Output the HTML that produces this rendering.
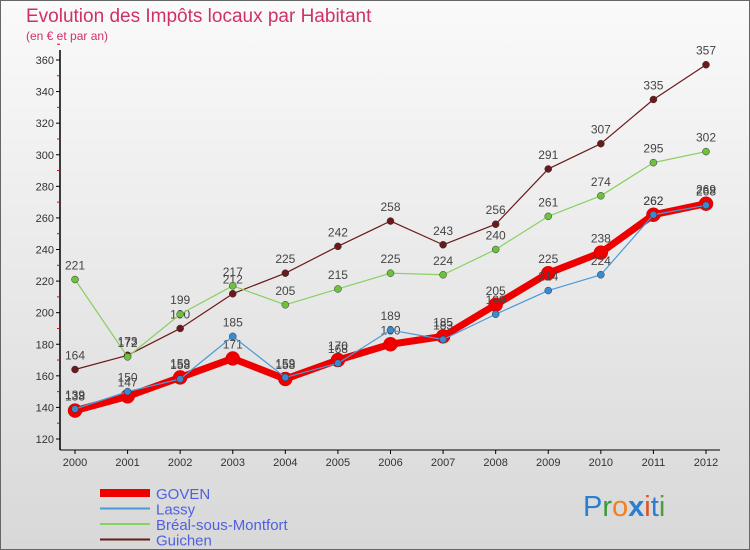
<!DOCTYPE html>
<html><head><meta charset="utf-8"><style>
body{margin:0}
#c{width:750px;height:550px;position:relative;font-family:"Liberation Sans",sans-serif;overflow:hidden}
</style></head><body>
<div id="c">
<svg id="s" width="750" height="550" xmlns="http://www.w3.org/2000/svg">
<defs><linearGradient id="bg" x1="0" y1="0" x2="0" y2="1"><stop offset="0" stop-color="#fafafa"/><stop offset="1" stop-color="#d8d8d8"/></linearGradient></defs>
<rect x="0.5" y="0.5" width="749" height="549" fill="url(#bg)" stroke="#666"/>
<text x="26" y="22" font-size="19" fill="#d0306a">Evolution des Impôts locaux par Habitant</text>
<text x="26" y="40" font-size="12" fill="#d0306a">(en € et par an)</text>
<g id="axes"></g><g id="series"></g><g id="legend"></g>
<text x="583" y="516" font-size="29" fill="#2a80d0">P<tspan fill="#3a9a40">r</tspan><tspan fill="#f08020">o</tspan><tspan fill="#2a80d0" font-weight="bold">x</tspan><tspan fill="#e05020">i</tspan><tspan fill="#2a80d0">t</tspan><tspan fill="#4aa040">i</tspan></text>
</svg></div>
<script>
const years=[2000,2001,2002,2003,2004,2005,2006,2007,2008,2009,2010,2011,2012];
const goven=[138,147,159,171,158,170,180,185,205,225,238,262,269];
const lassy=[139,150,158,185,159,168,189,183,199,214,224,262,268];
const breal=[221,172,199,217,205,215,225,224,240,261,274,295,302];
const guichen=[164,173,190,212,225,242,258,243,256,291,307,335,357];
const yTicks=[120,140,160,180,200,220,240,260,280,300,320,340,360];
const NS="http://www.w3.org/2000/svg";
function X(i){return 75+i*(706-75)/(years.length-1);}
function Y(v){return 439-(v-120)*(439-60)/240;}
function mk(t,a,p){const e=document.createElementNS(NS,t);for(const k in a)e.setAttribute(k,a[k]);p.appendChild(e);return e;}
const ax=document.getElementById('axes');
const yl=mk('line',{x1:60,y1:50,x2:60,y2:450,stroke:'#000','stroke-width':1.5},ax);


const xl=mk('line',{x1:60,y1:450,x2:720,y2:450,stroke:'#000','stroke-width':1},ax);


yTicks.forEach(v=>{
 mk('line',{x1:56,y1:Y(v),x2:60,y2:Y(v),stroke:'#000'},ax);
 mk('line',{x1:57,y1:Y(v+10),x2:60,y2:Y(v+10),stroke:'#e00'},ax);
 const t=mk('text',{x:54,y:Y(v)+4,'font-size':11,'text-anchor':'end',fill:'#333'},ax);t.textContent=v;
 
 
});
years.forEach((yr,i)=>{
 mk('line',{x1:X(i),y1:450,x2:X(i),y2:454,stroke:'#000'},ax);
 const t=mk('text',{x:X(i),y:466,'font-size':11,'text-anchor':'middle',fill:'#333'},ax);t.textContent=yr;
 
 
});
const series=[
 {n:'Guichen',d:guichen,c:'#6b1a1a',w:1.2,r:3.5,f:'#6b1a1a'},
 {n:'Bréal-sous-Montfort',d:breal,c:'#88d060',w:1.2,r:3.5,f:'#70c040'},
 {n:'GOVEN',d:goven,c:'#ee0000',w:7,r:7,f:'#ee0000'},
 {n:'Lassy',d:lassy,c:'#4a9ad8',w:1.2,r:3.5,f:'#3a8ad0'}];
const sg=document.getElementById('series');
series.forEach(s=>{
 const g=mk('g',{},sg);
 
 
 mk('polyline',{points:s.d.map((v,i)=>X(i)+','+Y(v)).join(' '),fill:'none',stroke:s.c,'stroke-width':s.w,'stroke-linejoin':'round'},g);
 s.d.forEach((v,i)=>{
  const p=mk('circle',{cx:X(i),cy:Y(v),r:s.r,fill:s.f,stroke:s.n=='GOVEN'?'#c00':'#333','stroke-width':0.5},g);
  
  
  const t=mk('text',{x:X(i),y:Y(v)-10,'font-size':12,'text-anchor':'middle',fill:'#444'},g);t.textContent=v;
  
  
 });
});
const lg=document.getElementById('legend');
[['GOVEN','#ee0000',8],['Lassy','#4a9ad8',2],['Bréal-sous-Montfort','#88d060',2],['Guichen','#6b1a1a',2]].forEach((e,i)=>{
 const y=493+i*15.5;
 const g=mk('g',{},lg);
 
 
 mk('line',{x1:100,y1:y,x2:150,y2:y,stroke:e[1],'stroke-width':e[2]},g);
 const t=mk('text',{x:156,y:y+6,'font-size':15,fill:'#5060e0'},g);t.textContent=e[0];
});
</script>
</body></html>
